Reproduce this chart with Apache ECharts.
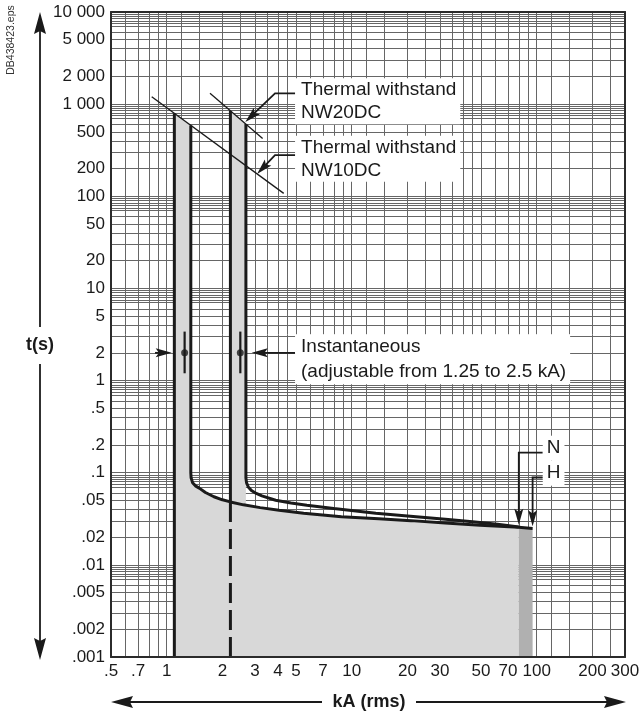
<!DOCTYPE html>
<html><head><meta charset="utf-8">
<script src="https://cdn.jsdelivr.net/npm/echarts@6/dist/echarts.min.js"></script>
<style>html,body{margin:0;padding:0;background:#fff}#c{width:643px;height:717px}</style>
</head><body><div id="c"></div>
<script>
// ---------- data ----------
const xTickValues = [0.5,0.7,1,2,3,4,5,7,10,20,30,50,70,100,200,300];
const xTickLabels = ['.5','.7','1','2','3','4','5','7','10','20','30','50','70','100','200','300'];
const yTickValues = [0.001,0.002,0.005,0.01,0.02,0.05,0.1,0.2,0.5,1,2,5,10,20,50,100,200,500,1000,2000,5000,10000];
const yTickLabels = ['.001','.002','.005','.01','.02','.05','.1','.2','.5','1','2','5','10','20','50','100','200','500','1 000','2 000','5 000','10 000'];

const xGridValues = [0.6,0.7,0.8,0.9,1,1.2,1.5,2,2.5,3,3.5,4,4.5,5,6,7,8,9,
  10,12,15,20,25,30,35,40,45,50,60,70,80,90,100,120,150,200,250];
const yGridMantissas = [1,2,3,4,5,6,7,7.5,8,8.5,9,9.5];
const yGridDecades = [0.001,0.01,0.1,1,10,100,1000,10000];

// NW10DC : left limit and right limit + delay curve (kA, s)
const nw10Left = [[1.1,790],[1.1,0.001]];
const nw10Curve = [[1.35,587],[1.35,0.1],[1.355,0.088],[1.38,0.078],[1.43,0.072],[1.5,0.068],[1.62,0.061],
  [1.8,0.0548],[2.0,0.0508],[2.21,0.0482],[2.6,0.0448],[3.2,0.0418],[4.05,0.0392],[5.5,0.0364],
  [8.8,0.0333],[14,0.0316],[20.9,0.0302],[32,0.0285],[49.4,0.0269],[80,0.0256]];
// NW20DC
const nw20Left = [[2.21,845],[2.21,0.0482]];
const nw20Dashed = [[2.21,0.0482],[2.21,0.001]];
const nw20Curve = [[2.68,608],[2.68,0.088],[2.7,0.078],[2.76,0.070],[2.87,0.064],[3.05,0.0595],[3.27,0.056],
  [3.88,0.0503],[4.7,0.047],[5.72,0.0444],[8,0.041],[13.5,0.0363],[20,0.034],[32.1,0.0313],[45,0.0293],
  [61.4,0.0276],[80,0.0258]];
// breaking capacity N -> H
const breakNH = [[80,0.0256],[95,0.0248]];
// thermal withstand lines
const nw10Thermal = [[0.83,1203],[4.29,107.5]];
const nw20Thermal = [[1.714,1310],[3.30,425]];
// instantaneous setting markers
const instSettings = [1.25, 2.5];
const instTime = 2;
const instRange = [1.2, 3.4];

// annotations (data units)
const calloutPaths = [
  [[5.0,1310],[3.85,1310],[2.66,640]],
  [[5.0,280],[3.85,280],[3.08,174]],
  [[0.865,2],[1.064,2]],
  [[4.94,2],[2.88,2]],
  [[107.8,0.1656],[80,0.1656],[80,0.0272]],
  [[107.8,0.0887],[95,0.0887],[95,0.0262]]
];
const noteTexts = ['Thermal withstand\nNW20DC','Thermal withstand\nNW10DC',
  'Instantaneous\n(adjustable from 1.25 to 2.5 kA)','N','H'];
const noteAnchors = [[4.94,1072],[4.94,255],[4.94,1.70],[107.8,0.1845],[107.8,0.0988]];

// ---------- build ----------
const yGridValues = [];
yGridDecades.forEach(d => yGridMantissas.forEach(m => { const v = +(d*m).toPrecision(6); if (v <= 10000) yGridValues.push(v); }));

function lookup(values, labels) {
  return function (v) {
    for (let i = 0; i < values.length; i++) {
      if (Math.abs(Math.log10(v) - Math.log10(values[i])) < 1e-6) return labels[i];
    }
    return '';
  };
}
const FONT = '"Liberation Sans", Arial, Helvetica, sans-serif';
const INK = '#1a1a1a';
const LIGHT = '#d8d8d8';
const DARK = '#b0b0b0';

const chart = echarts.init(document.getElementById('c'), null, {renderer: 'canvas'});

const lineSeries = (data, opts) => Object.assign({
  type: 'line', data: data, symbol: 'none', silent: true, animation: false,
  lineStyle: {color: INK, width: 3}, z: 5
}, opts || {});

const series = [
  // fills
  lineSeries([nw10Left[0]].concat(nw10Curve), {lineStyle: {width: 0}, areaStyle: {color: LIGHT, opacity: 1, origin: 'start'}, z: 2}),
  lineSeries([nw20Left[0], nw20Curve[0], nw20Curve[1]], {lineStyle: {width: 0}, areaStyle: {color: LIGHT, opacity: 1, origin: 'start'}, z: 2}),
  lineSeries(breakNH, {lineStyle: {width: 0}, areaStyle: {color: DARK, opacity: 1, origin: 'start'}, z: 3}),
  // curves
  lineSeries(nw10Left),
  lineSeries(nw10Curve.concat(breakNH.slice(1))),
  lineSeries(nw20Left),
  lineSeries(nw20Dashed, {lineStyle: {color: INK, width: 3, type: [20, 7]}}),
  lineSeries(nw20Curve),
  lineSeries(nw10Thermal, {lineStyle: {color: INK, width: 1.3}}),
  lineSeries(nw20Thermal, {lineStyle: {color: INK, width: 1.3}})
];
instSettings.forEach(v => {
  series.push(lineSeries([[v, instRange[0]], [v, instRange[1]]], {lineStyle: {color: INK, width: 2.2}, z: 6}));
});
series.push({
  type: 'scatter', data: instSettings.map(v => [v, instTime]), symbol: 'circle', symbolSize: 7,
  itemStyle: {color: INK}, silent: true, animation: false, z: 7
});
// callouts with arrowheads
series.push({
  type: 'custom', silent: true, animation: false, z: 8,
  data: calloutPaths.map(p => p[p.length - 1]),
  renderItem: function (params, api) {
    const pts = calloutPaths[params.dataIndex].map(p => api.coord(p));
    const n = pts.length;
    const P = pts[n - 1], Q = pts[n - 2];
    let ux = P[0] - Q[0], uy = P[1] - Q[1];
    const len = Math.sqrt(ux * ux + uy * uy) || 1;
    ux /= len; uy /= len;
    const L = 16, W = 4.5;
    const nx = -uy, ny = ux;
    const bx = P[0] - ux * L, by = P[1] - uy * L;
    const head = [P, [bx + nx * W, by + ny * W], [P[0] - ux * L * 0.8, P[1] - uy * L * 0.8], [bx - nx * W, by - ny * W]];
    const linePts = pts.slice(0, n - 1).concat([[P[0] - ux * L * 0.7, P[1] - uy * L * 0.7]]);
    return {type: 'group', children: [
      {type: 'polyline', shape: {points: linePts}, style: {stroke: INK, lineWidth: 1.8, fill: null}},
      {type: 'polygon', shape: {points: head}, style: {fill: INK}}
    ]};
  }
});
// annotation texts
series.push({
  type: 'custom', silent: true, animation: false, z: 9,
  data: noteAnchors,
  renderItem: function (params, api) {
    const i = params.dataIndex;
    const p = api.coord(noteAnchors[i]);
    const isInst = i === 2;
    const short = i >= 3;
    return {type: 'text', x: p[0], y: p[1], style: {
      text: noteTexts[i], font: '19px ' + FONT, fill: INK,
      align: 'left', verticalAlign: 'middle',
      lineHeight: isInst ? 25 : 23,
      backgroundColor: '#fff',
      padding: short ? [1, 4, 1, 4] : [0, 4, 0, 6]
    }};
  }
});

const option = {
  animation: false,
  backgroundColor: '#fff',
  grid: {left: 111, right: 18, top: 12, bottom: 60, containLabel: false, outerBoundsMode: 'none'},
  xAxis: [
    {type: 'log', logBase: 10, min: 0.5, max: 300, position: 'bottom', z: 10,
     axisLine: {show: true, lineStyle: {color: '#2b2b2b', width: 2}},
     axisTick: {show: false},
     splitLine: {show: false}, minorSplitLine: {show: false},
     axisLabel: {customValues: xTickValues, formatter: lookup(xTickValues, xTickLabels),
       fontSize: 17, fontFamily: FONT, color: INK, margin: 6, hideOverlap: false}},
    {type: 'log', logBase: 10, min: 0.5, max: 300, position: 'top', z: 0,
     axisLine: {show: true, lineStyle: {color: '#2b2b2b', width: 2}},
     axisTick: {show: false, customValues: xGridValues},
     axisLabel: {show: false},
     splitLine: {show: true, lineStyle: {color: '#666', width: 1}}}
  ],
  yAxis: [
    {type: 'log', logBase: 10, min: 0.001, max: 10000, position: 'left', z: 10,
     axisLine: {show: true, lineStyle: {color: '#2b2b2b', width: 2}},
     axisTick: {show: false},
     splitLine: {show: false}, minorSplitLine: {show: false},
     axisLabel: {customValues: yTickValues, formatter: lookup(yTickValues, yTickLabels),
       fontSize: 17, fontFamily: FONT, color: INK, margin: 6, hideOverlap: false}},
    {type: 'log', logBase: 10, min: 0.001, max: 10000, position: 'right', z: 0,
     axisLine: {show: true, lineStyle: {color: '#2b2b2b', width: 2}},
     axisTick: {show: false, customValues: yGridValues},
     axisLabel: {show: false},
     splitLine: {show: true, lineStyle: {color: '#666', width: 1}}}
  ],
  series: series,
  graphic: [
    // vertical time arrow
    {type: 'line', shape: {x1: 40, y1: 30, x2: 40, y2: 327}, style: {stroke: INK, lineWidth: 1.8}, silent: true},
    {type: 'line', shape: {x1: 40, y1: 364, x2: 40, y2: 642}, style: {stroke: INK, lineWidth: 1.8}, silent: true},
    {type: 'polygon', shape: {points: [[40, 12], [46, 34], [40, 31], [34, 34]]}, style: {fill: INK}, silent: true},
    {type: 'polygon', shape: {points: [[40, 660], [46, 638], [40, 641], [34, 638]]}, style: {fill: INK}, silent: true},
    {type: 'text', x: 40, y: 345, style: {text: 't(s)', font: 'bold 18px ' + FONT, fill: INK, align: 'center', verticalAlign: 'middle'}, silent: true},
    // horizontal current arrow
    {type: 'line', shape: {x1: 128, y1: 702, x2: 322, y2: 702}, style: {stroke: INK, lineWidth: 1.8}, silent: true},
    {type: 'line', shape: {x1: 416, y1: 702, x2: 609, y2: 702}, style: {stroke: INK, lineWidth: 1.8}, silent: true},
    {type: 'polygon', shape: {points: [[111, 702], [133, 696], [130, 702], [133, 708]]}, style: {fill: INK}, silent: true},
    {type: 'polygon', shape: {points: [[626, 702], [604, 696], [607, 702], [604, 708]]}, style: {fill: INK}, silent: true},
    {type: 'text', x: 369, y: 702, style: {text: 'kA (rms)', font: 'bold 18px ' + FONT, fill: INK, align: 'center', verticalAlign: 'middle'}, silent: true},
    // file reference
    {type: 'text', x: 11, y: 40, rotation: Math.PI / 2, style: {text: 'DB438423.eps', font: '10.5px ' + FONT, fill: '#333', align: 'center', verticalAlign: 'middle'}, silent: true}
  ]
};
chart.setOption(option);
</script>
</body></html>
